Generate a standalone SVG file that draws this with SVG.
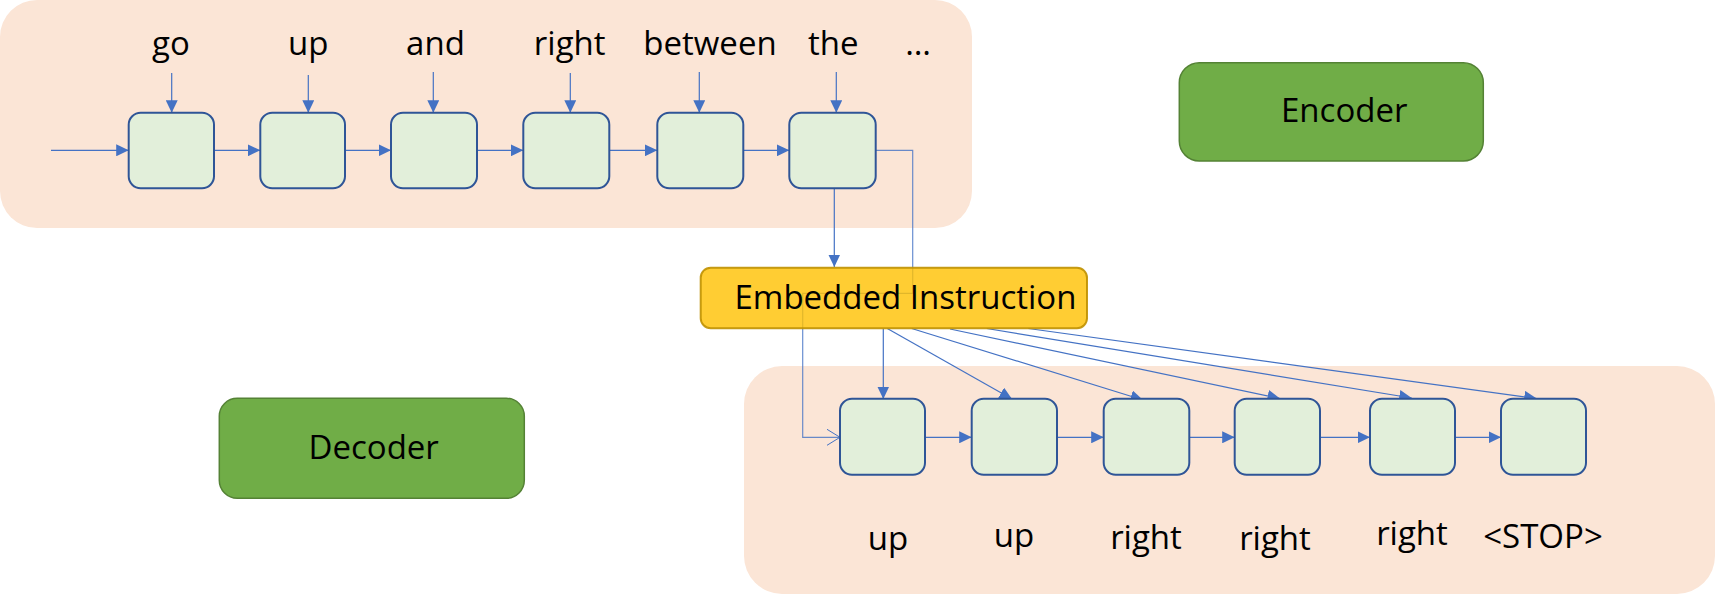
<svg xmlns="http://www.w3.org/2000/svg" width="1716" height="594" viewBox="0 0 1716 594">
<style>
  .bg { fill: #FBE5D6; }
  .cell { fill: #E2EFDA; stroke: #2F5597; stroke-width: 2; }
  .label { fill: #70AD47; stroke: #548235; stroke-width: 1.5; }
  .emb { fill: #FFC000; fill-opacity: 0.8; stroke: #BF9000; stroke-width: 2; stroke-opacity: 0.9; }
  .t { font-family: "Open Sans", "Liberation Sans", sans-serif; font-size: 33px; fill: #000; }
  .c { text-anchor: middle; }
  .ln { fill: none; stroke: #4472C4; stroke-width: 1.2; }
  .a { marker-end: url(#ah); }
</style>
<defs>
  <marker id="ah" markerUnits="userSpaceOnUse" markerWidth="13" markerHeight="12" refX="12.5" refY="6" orient="auto">
    <path d="M0,0 L12.5,6 L0,12 z" fill="#4472C4"/>
  </marker>
  <marker id="open" markerUnits="userSpaceOnUse" markerWidth="16" markerHeight="18" refX="13" refY="8" orient="auto">
    <path d="M0,0 L13,8 L0,16" fill="none" stroke="#4472C4" stroke-width="1"/>
  </marker>
</defs>

<g id="encoder-background">
  <rect class="bg" x="0" y="0" width="972" height="228" rx="37"/>
</g>
<g id="decoder-background">
  <rect class="bg" x="744" y="366" width="971" height="228" rx="38"/>
</g>

<g id="connectors">
  <path class="ln a" d="M51,150.3 H128.7"/>
  <path class="ln a" d="M214,150.3 H260.3"/>
  <path class="ln a" d="M345,150.3 H391"/>
  <path class="ln a" d="M477,150.3 H523.3"/>
  <path class="ln a" d="M609.3,150.3 H657.3"/>
  <path class="ln a" d="M743.3,150.3 H789.3"/>
  <path class="ln a" d="M171.7,73 V112.7"/>
  <path class="ln a" d="M308.3,75 V112.7"/>
  <path class="ln a" d="M433.3,72 V112.7"/>
  <path class="ln a" d="M570.3,73 V112.7"/>
  <path class="ln a" d="M699.3,72 V112.7"/>
  <path class="ln a" d="M836.3,72 V112.7"/>
  <path class="ln a" d="M834.3,188.3 V267"/>
  <path class="ln" style="marker-end:url(#open);stroke-opacity:0.8" d="M875.7,150.3 H912.7 V293.3 H802.7 V437.3 H840"/>
  <path class="ln a" d="M883.3,328.5 V399"/>
  <path class="ln a" d="M887.3,328.5 L1012,399"/>
  <path class="ln a" d="M911.7,328.5 L1143,400"/>
  <path class="ln a" d="M950,329 L1280,398.5"/>
  <path class="ln a" d="M986.7,328.5 L1411.7,398"/>
  <path class="ln a" d="M1028.3,328.5 L1536.7,398.5"/>
  <path class="ln a" d="M925,437.3 H971.7"/>
  <path class="ln a" d="M1057,437.3 H1103.7"/>
  <path class="ln a" d="M1189.3,437.3 H1234.7"/>
  <path class="ln a" d="M1320,437.3 H1370"/>
  <path class="ln a" d="M1455,437.3 H1501"/>
</g>

<g id="enc-go"><rect class="cell" x="128.7" y="112.7" width="85.3" height="75.6" rx="12"/><text class="t c" x="171" y="55">go</text></g>
<g id="enc-up"><rect class="cell" x="260.3" y="112.7" width="84.7" height="75.6" rx="12"/><text class="t c" x="308.3" y="55">up</text></g>
<g id="enc-and"><rect class="cell" x="391" y="112.7" width="86" height="75.6" rx="12"/><text class="t c" x="435.5" y="55">and</text></g>
<g id="enc-right"><rect class="cell" x="523.3" y="112.7" width="86" height="75.6" rx="12"/><text class="t c" x="569.7" y="55">right</text></g>
<g id="enc-between"><rect class="cell" x="657.3" y="112.7" width="86" height="75.6" rx="12"/><text class="t c" x="710" y="55">between</text></g>
<g id="enc-the"><rect class="cell" x="789.3" y="112.7" width="86.4" height="75.6" rx="12"/><text class="t c" x="833.2" y="55">the</text></g>
<g id="enc-more"><text class="t c" x="918" y="55">…</text></g>

<g id="encoder-label"><rect class="label" x="1179.3" y="62.7" width="304" height="98.3" rx="20"/><text class="t" x="1281" y="121.7">Encoder</text></g>
<g id="decoder-label"><rect class="label" x="219.3" y="398.3" width="305" height="100" rx="18"/><text class="t" x="308.5" y="459.3">Decoder</text></g>

<g id="embedded-instruction"><rect class="emb" x="700.7" y="267.7" width="386.3" height="60.5" rx="10"/><text class="t" x="734.5" y="308.7">Embedded Instruction</text></g>

<g id="dec-1"><rect class="cell" x="840" y="398.7" width="85" height="76" rx="12"/><text class="t c" x="888" y="550">up</text></g>
<g id="dec-2"><rect class="cell" x="971.7" y="398.7" width="85.3" height="76" rx="12"/><text class="t c" x="1014" y="547">up</text></g>
<g id="dec-3"><rect class="cell" x="1103.7" y="398.7" width="85.6" height="76" rx="12"/><text class="t c" x="1146" y="549">right</text></g>
<g id="dec-4"><rect class="cell" x="1234.7" y="398.7" width="85.3" height="76" rx="12"/><text class="t c" x="1275" y="550">right</text></g>
<g id="dec-5"><rect class="cell" x="1370" y="398.7" width="85" height="76" rx="12"/><text class="t c" x="1412" y="545">right</text></g>
<g id="dec-6"><rect class="cell" x="1501" y="398.7" width="85" height="76" rx="12"/><text class="t c" x="1543" y="548">&lt;STOP&gt;</text></g>
</svg>
